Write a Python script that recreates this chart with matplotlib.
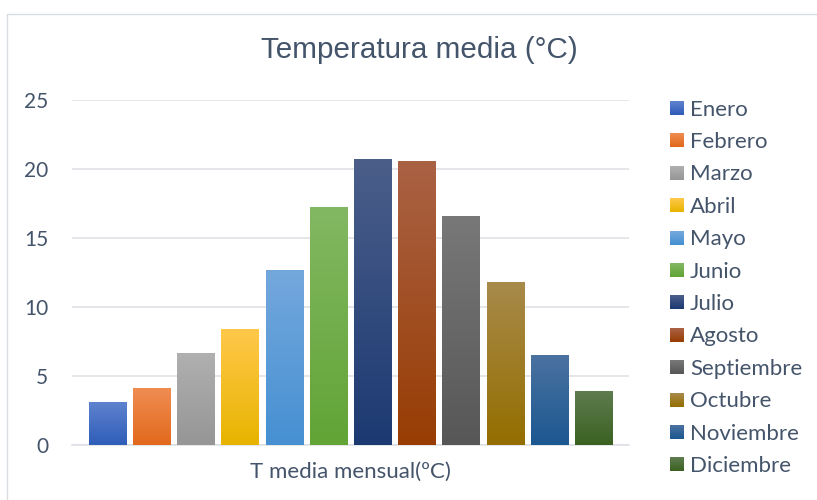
import numpy as np
import matplotlib
matplotlib.use("Agg")
import matplotlib.pyplot as plt
from matplotlib.colors import to_rgb
from matplotlib.patches import Rectangle

# Monthly mean temperature (ºC)
meses = ['Enero', 'Febrero', 'Marzo', 'Abril', 'Mayo', 'Junio', 'Julio',
         'Agosto', 'Septiembre', 'Octubre', 'Noviembre', 'Diciembre']
t_media = [3.1, 4.1, 6.7, 8.4, 12.7, 17.25, 20.7, 20.6, 16.6, 11.8, 6.5, 3.9]
categoria = 'T media mensual(ºC)'
y_ticks = [0, 5, 10, 15, 20, 25]

# Gradient fill for each bar: lighter at the top, darker at the bottom
color_top = ['#5E82CE', '#F08C52', '#B0B0B0', '#FFC84A', '#74A8DD', '#82B862',
             '#4B5E8A', '#AA6245', '#787878', '#A88A4A', '#4A72A0', '#5E7C4E']
color_bottom = ['#2F5DB8', '#E2691C', '#969696', '#E8B400', '#4690D2', '#62A436',
                '#1C3A72', '#983D04', '#575757', '#946E00', '#1C5891', '#3B6122']

TEXT = '#44546A'
GRID = '#DCDFE4'
FONT = 'Lato'

W, H = 817, 500
fig = plt.figure(figsize=(W / 100, H / 100), dpi=100)
fig.patch.set_facecolor('white')

ax = fig.add_axes([72 / W, 55 / H, 557 / W, 345 / H])
x = np.arange(len(meses))
bars = ax.bar(x, t_media, width=0.84, zorder=3)

for bar, c0, c1 in zip(bars, color_top, color_bottom):
    x0, y0 = bar.get_x(), bar.get_y()
    w, h = bar.get_width(), bar.get_height()
    grad = np.linspace(to_rgb(c1), to_rgb(c0), 64).reshape(64, 1, 3)
    im = ax.imshow(grad, extent=[x0, x0 + w, y0, y0 + h], origin='lower',
                   aspect='auto', zorder=3, interpolation='bilinear')
    im.set_clip_path(bar)
    bar.set_facecolor('none')
    bar.set_edgecolor('none')

ax.set_xlim(-0.80, 11.80)
ax.set_ylim(0, 25)
ax.set_yticks(y_ticks)
ax.set_yticklabels([str(v) for v in y_ticks], fontsize=15, family=FONT, color=TEXT)
ax.tick_params(axis='y', length=0, pad=17)
ax.set_xticks([])
ax.grid(axis='y', color=GRID, linewidth=1.1, zorder=0)
for side in ['top', 'right', 'left']:
    ax.spines[side].set_visible(False)
ax.spines['bottom'].set_color(GRID)
ax.spines['bottom'].set_linewidth(1.1)

ax.text(0.5, -27 / 345, categoria, transform=ax.transAxes, ha='center',
        va='center', fontsize=16, family=FONT, color=TEXT)

fig.text(419 / W, 1 - 50 / H, 'Temperatura media (°C)', ha='center', va='center',
         fontsize=21.3, family='Liberation Sans', color=TEXT)

# Overlay in pixel coordinates for chart border and legend
ov = fig.add_axes([0, 0, 1, 1], zorder=5)
ov.set_xlim(0, W)
ov.set_ylim(H, 0)
ov.axis('off')
ov.patch.set_alpha(0)
ov.add_patch(Rectangle((7.5, 13.5), 900, 600, fill=False, edgecolor='#D9DCE1',
                       linewidth=1.0))

for i, (mes, c0, c1) in enumerate(zip(meses, color_top, color_bottom)):
    yc = 108 + i * 32.4
    grad = np.linspace(to_rgb(c0), to_rgb(c1), 16).reshape(16, 1, 3)
    ov.imshow(grad, extent=[670, 684, yc + 7, yc - 7], origin='upper',
              aspect='auto', interpolation='bilinear')
    ov.text(690, yc + 1.5, mes, ha='left', va='center', fontsize=16,
            family=FONT, color=TEXT)
ov.set_xlim(0, W)
ov.set_ylim(H, 0)

fig.savefig('out.png', dpi=100, facecolor='white')
